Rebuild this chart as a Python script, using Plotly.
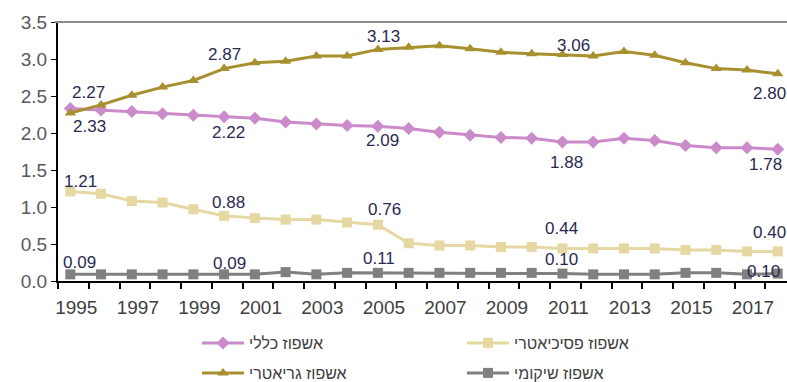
import plotly.graph_objects as go

years = list(range(1995, 2019))
general = [2.33, 2.31, 2.29, 2.26, 2.24, 2.22, 2.20, 2.15, 2.12, 2.10, 2.09, 2.06,
           2.01, 1.97, 1.94, 1.93, 1.88, 1.88, 1.93, 1.90, 1.83, 1.80, 1.80, 1.78]
psychiatric = [1.21, 1.18, 1.08, 1.06, 0.97, 0.88, 0.85, 0.83, 0.83, 0.79, 0.76, 0.51,
               0.48, 0.48, 0.46, 0.46, 0.44, 0.44, 0.44, 0.44, 0.42, 0.42, 0.40, 0.40]
geriatric = [2.27, 2.38, 2.51, 2.62, 2.71, 2.87, 2.95, 2.97, 3.04, 3.04, 3.13, 3.16,
             3.18, 3.14, 3.09, 3.07, 3.06, 3.04, 3.10, 3.05, 2.95, 2.87, 2.85, 2.80]
rehab = [0.09, 0.09, 0.09, 0.09, 0.09, 0.09, 0.09, 0.12, 0.09, 0.11, 0.11, 0.11,
         0.11, 0.11, 0.11, 0.11, 0.10, 0.09, 0.09, 0.09, 0.11, 0.11, 0.09, 0.10]

names = ["אשפוז כללי", "אשפוז פסיכיאטרי", "אשפוז גריאטרי", "אשפוז שיקומי"]
tick_years = list(range(1995, 2018, 2))
label_years = [1995, 2000, 2005, 2011, 2018]

series = [
    dict(y=general, name=names[0], color="#CB8BCB", symbol="diamond", size=10, legend="legend",
         shifts=[(19, -18), (4, -16), (5, -14), (4, -21), (-12, -15)]),
    dict(y=psychiatric, name=names[1], color="#E6D8A2", symbol="square", size=10, legend="legend",
         shifts=[(10, 10), (4, 13), (7, 15), (-1, 20), (-8, 19)]),
    dict(y=geriatric, name=names[2], color="#A8902E", symbol="triangle-up", size=10, legend="legend2",
         shifts=[(18, 21), (0, 14), (6, 13), (11, 9), (-8, -20)]),
    dict(y=rehab, name=names[3], color="#808080", symbol="square", size=10, legend="legend2",
         shifts=[(9, 12), (5, 11), (1, 14), (-1, 14), (-14, 2)]),
]

fig = go.Figure()
annotations = []
for s in series:
    fig.add_trace(go.Scatter(
        x=years, y=s["y"], name=s["name"], mode="lines+markers",
        line=dict(color=s["color"], width=3),
        marker=dict(symbol=s["symbol"], size=s["size"], color=s["color"]),
        legend=s["legend"],
    ))
    for (yr, (dx, dy)) in zip(label_years, s["shifts"]):
        v = s["y"][years.index(yr)]
        annotations.append(dict(
            x=yr, y=v, xref="x", yref="y", text=f"{v:.2f}", showarrow=False,
            xshift=dx, yshift=dy,
            font=dict(family="Liberation Sans, Arial, sans-serif", size=17, color="#2A2A50"),
        ))

leg_common = dict(
    orientation="h", xref="container", yref="container",
    xanchor="left", yanchor="middle",
    entrywidth=208, entrywidthmode="pixels", itemwidth=42,
    font=dict(family="Liberation Sans, Arial, sans-serif", size=16, color="#404040"),
    bgcolor="rgba(0,0,0,0)", borderwidth=0,
)

fig.update_layout(
    width=787, height=382,
    margin=dict(l=58, r=0, t=22, b=101),
    plot_bgcolor="white", paper_bgcolor="white",
    font=dict(family="Liberation Sans, Arial, sans-serif"),
    showlegend=True,
    legend=dict(**leg_common, x=197 / 787, y=1 - 343 / 382),
    legend2=dict(**leg_common, x=197 / 787, y=1 - 373 / 382),
    annotations=annotations,
    xaxis=dict(
        range=[1994.6, 2018.3], showgrid=False, zeroline=False,
        showline=True, linecolor="black", linewidth=2,
        tickmode="array", tickvals=tick_years, ticktext=[str(y) for y in tick_years],
        ticks="", ticklabelshift=6, ticklabelstandoff=8,
        tickfont=dict(size=19, color="#404040"),
        minor=dict(tick0=1994.6, dtick=1, ticks="outside", ticklen=6,
                   tickwidth=2, tickcolor="black", showgrid=False),
    ),
    yaxis=dict(
        range=[0, 3.5], dtick=0.5, tickformat=".1f", showgrid=False, zeroline=False,
        showline=True, linecolor="black", linewidth=2,
        ticks="outside", ticklen=5, tickwidth=1, tickcolor="black",
        tickfont=dict(size=19, color="#595959"),
    ),
    shapes=[dict(type="line", xref="paper", yref="paper", x0=-0.004, x1=1, y0=1, y1=1,
                 line=dict(color="#8C8C8C", width=2))],
)

fig.write_html("out.html")
